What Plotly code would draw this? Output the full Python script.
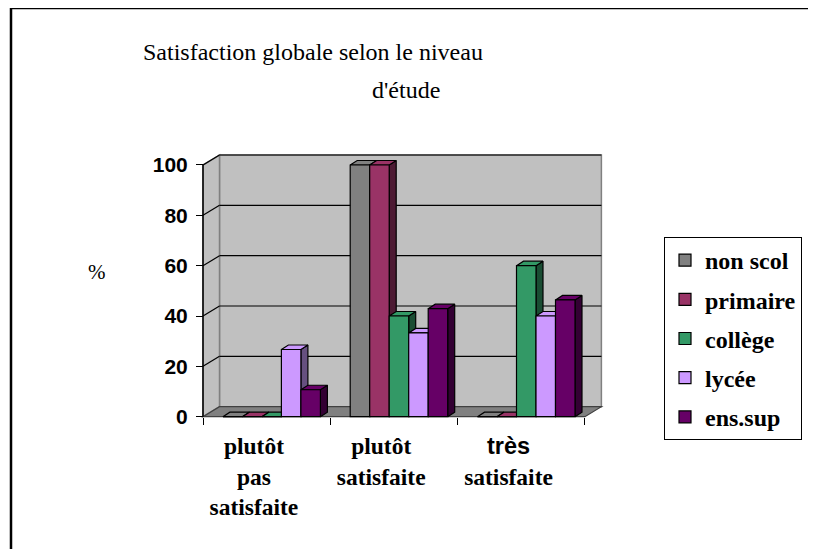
import plotly.graph_objects as go

# ---------------- data ----------------
categories = ["plutôt<br>pas<br>satisfaite", "plutôt<br>satisfaite",
              "<span style='font-family:Arial, Liberation Sans, sans-serif'>très</span><br>satisfaite"]
series_names = ["non scol", "primaire", "collège", "lycée", "ens.sup"]
non_scol = [0, 100, 0]
primaire = [0, 100, 0]
college = [0, 40, 60]
lycee = [26.7, 33.3, 40]
ens_sup = [10.7, 42.9, 46.4]
series_values = [non_scol, primaire, college, lycee, ens_sup]
y_ticks = [0, 20, 40, 60, 80, 100]

front_colors = ["#808080", "#993366", "#339966", "#CC99FF", "#660066"]
side_colors = ["#404040", "#4d1a33", "#1a4d33", "#665080", "#330033"]

# ---------------- geometry ----------------
# page body has an 8px margin: figure is drawn 8px right/down in the window
OFF = 8
W, H = 816 - OFF, 549 - OFF


def fx(px):   # window pixel x -> paper fraction
    return (px - OFF) / W


def fy(py):   # window pixel y -> paper fraction
    return (H - (py - OFF)) / H


px_x0 = 203.0          # window pixel of x = -0.5
ux = 127.3             # px per category
px_y0 = 416.7          # window pixel of y = 0
uy = 2.517             # px per unit
xr = [-0.53, 2.66]
yr = [-1.5, 104.8]
dom_x = [fx(px_x0 + (xr[0] + 0.5) * ux), fx(px_x0 + (xr[1] + 0.5) * ux)]
dom_y = [fy(px_y0 - yr[0] * uy), fy(px_y0 - yr[1] * uy)]

bar_w = 19.5 / ux
shift = 5.0 / ux
bdx = 7.0 / ux
bdy = 4.5 / uy
wdx = 16.5 / ux
wdy = 10.0 / uy

font_serif = "Liberation Serif, Times New Roman, serif"
font_sans = "Liberation Sans, Arial, sans-serif"

fig = go.Figure()

# side / top faces (base subplot, drawn below the fronts)
for i, (name, vals) in enumerate(zip(series_names, series_values)):
    sx, sy, tx, ty = [], [], [], []
    for g, v in enumerate(vals):
        xc = g + shift + (i - 2) * bar_w
        x0, x1 = xc - bar_w / 2, xc + bar_w / 2
        sx += [x1, x1 + bdx, x1 + bdx, x1, x1, None]
        sy += [0, bdy, v + bdy, v, 0, None]
        tx += [x0, x0 + bdx, x1 + bdx, x1, x0, None]
        ty += [v, v + bdy, v + bdy, v, v, None]
    fig.add_trace(go.Scatter(x=sx, y=sy, fill="toself", fillcolor=side_colors[i], mode="lines",
                             line=dict(color="black", width=1.2), showlegend=False, hoverinfo="skip",
                             xaxis="x", yaxis="y"))
    fig.add_trace(go.Scatter(x=tx, y=ty, fill="toself", fillcolor=front_colors[i], mode="lines",
                             line=dict(color="black", width=1.2), showlegend=False, hoverinfo="skip",
                             xaxis="x", yaxis="y"))

# front faces (overlay subplot)
for i, (name, vals) in enumerate(zip(series_names, series_values)):
    xs = [g + shift + (i - 2) * bar_w for g in range(len(vals))]
    fig.add_trace(go.Bar(x=xs, y=vals, width=bar_w, name=name, legendgroup=name,
                         marker=dict(color=front_colors[i], line=dict(color="black", width=1.2)),
                         xaxis="x2", yaxis="y2"))

shapes = []
# back wall
shapes.append(dict(type="rect", xref="x", yref="y", x0=-0.5 + wdx, x1=2.5 + wdx, y0=wdy, y1=100 + wdy,
                   fillcolor="#C0C0C0", line=dict(color="#808080", width=1.5), layer="below"))
# left wall
shapes.append(dict(type="path", xref="x", yref="y",
                   path=f"M{-0.5},{0} L{-0.5 + wdx},{wdy} L{-0.5 + wdx},{100 + wdy} L{-0.5},{100} Z",
                   fillcolor="#C0C0C0", line=dict(color="#808080", width=1.5), layer="below"))
# floor
shapes.append(dict(type="path", xref="x", yref="y",
                   path=f"M{-0.5},{0} L{-0.5 + wdx},{wdy} L{2.5 + wdx},{wdy} L{2.5},{0} Z",
                   fillcolor="#808080", line=dict(color="#404040", width=1.2), layer="below"))
# gridlines on back and left wall
for t in y_ticks[1:]:
    shapes.append(dict(type="line", xref="x", yref="y", x0=-0.5 + wdx, x1=2.5 + wdx, y0=t + wdy, y1=t + wdy,
                       line=dict(color="black", width=1.2), layer="below"))
    shapes.append(dict(type="line", xref="x", yref="y", x0=-0.5, x1=-0.5 + wdx, y0=t, y1=t + wdy,
                       line=dict(color="black", width=1.2), layer="below"))
# value axis line
shapes.append(dict(type="line", xref="x", yref="y", x0=-0.5, x1=-0.5, y0=0, y1=100,
                   line=dict(color="black", width=1.5)))
# outer frame
shapes.append(dict(type="path", xref="paper", yref="paper",
                   path=f"M{fx(11)},0 L{fx(11)},{fy(8)} L1,{fy(8)}",
                   line=dict(color="black", width=2.5)))

fig.update_layout(
    width=W, height=H, autosize=False,
    margin=dict(l=0, r=0, t=0, b=0, pad=0),
    paper_bgcolor="white", plot_bgcolor="rgba(0,0,0,0)",
    barmode="overlay",
    showlegend=True,
    shapes=shapes,
    xaxis=dict(domain=dom_x, range=xr, anchor="free", position=fy(px_y0), automargin=False,
               tickvals=[g - 0.1 for g in range(len(categories))], ticktext=categories,
               ticks="", showgrid=False, zeroline=False, showline=False,
               tickfont=dict(family=font_serif, size=23.5, color="black", weight="bold"),
               ticklabelstandoff=13,
               minor=dict(tickvals=[-0.5, 0.5, 1.5, 2.5], ticks="outside", ticklen=7,
                          tickcolor="black", tickwidth=1.2, showgrid=False)),
    yaxis=dict(domain=dom_y, range=yr, anchor="free", position=fx(px_x0), automargin=False,
               tickvals=y_ticks, ticks="outside", ticklen=7, tickcolor="black", tickwidth=1.2,
               showgrid=False, zeroline=False, showline=False,
               tickfont=dict(family=font_sans, size=21, color="black", weight="bold"),
               ticklabelstandoff=4),
    xaxis2=dict(domain=dom_x, range=xr, overlaying="x", anchor="y2", visible=False, automargin=False),
    yaxis2=dict(domain=dom_y, range=yr, overlaying="y", anchor="x2", visible=False, automargin=False),
    legend=dict(x=fx(664), y=fy(237), xanchor="left", yanchor="top",
                bordercolor="black", borderwidth=1, bgcolor="white",
                font=dict(family=font_serif, size=24, color="black", weight="bold"),
                tracegroupgap=5, traceorder="grouped"),
    annotations=[
        dict(text="Satisfaction globale selon le niveau", xref="paper", yref="paper",
             x=fx(313), y=fy(52), xanchor="center", yanchor="middle", showarrow=False,
             font=dict(family=font_serif, size=24, color="black")),
        dict(text="d'étude", xref="paper", yref="paper",
             x=fx(406), y=fy(90), xanchor="center", yanchor="middle", showarrow=False,
             font=dict(family=font_serif, size=24, color="black")),
        dict(text="%", xref="paper", yref="paper",
             x=fx(97), y=fy(272), xanchor="center", yanchor="middle", showarrow=False,
             font=dict(family=font_serif, size=21, color="black")),
    ],
)

fig.write_html("out.html")
